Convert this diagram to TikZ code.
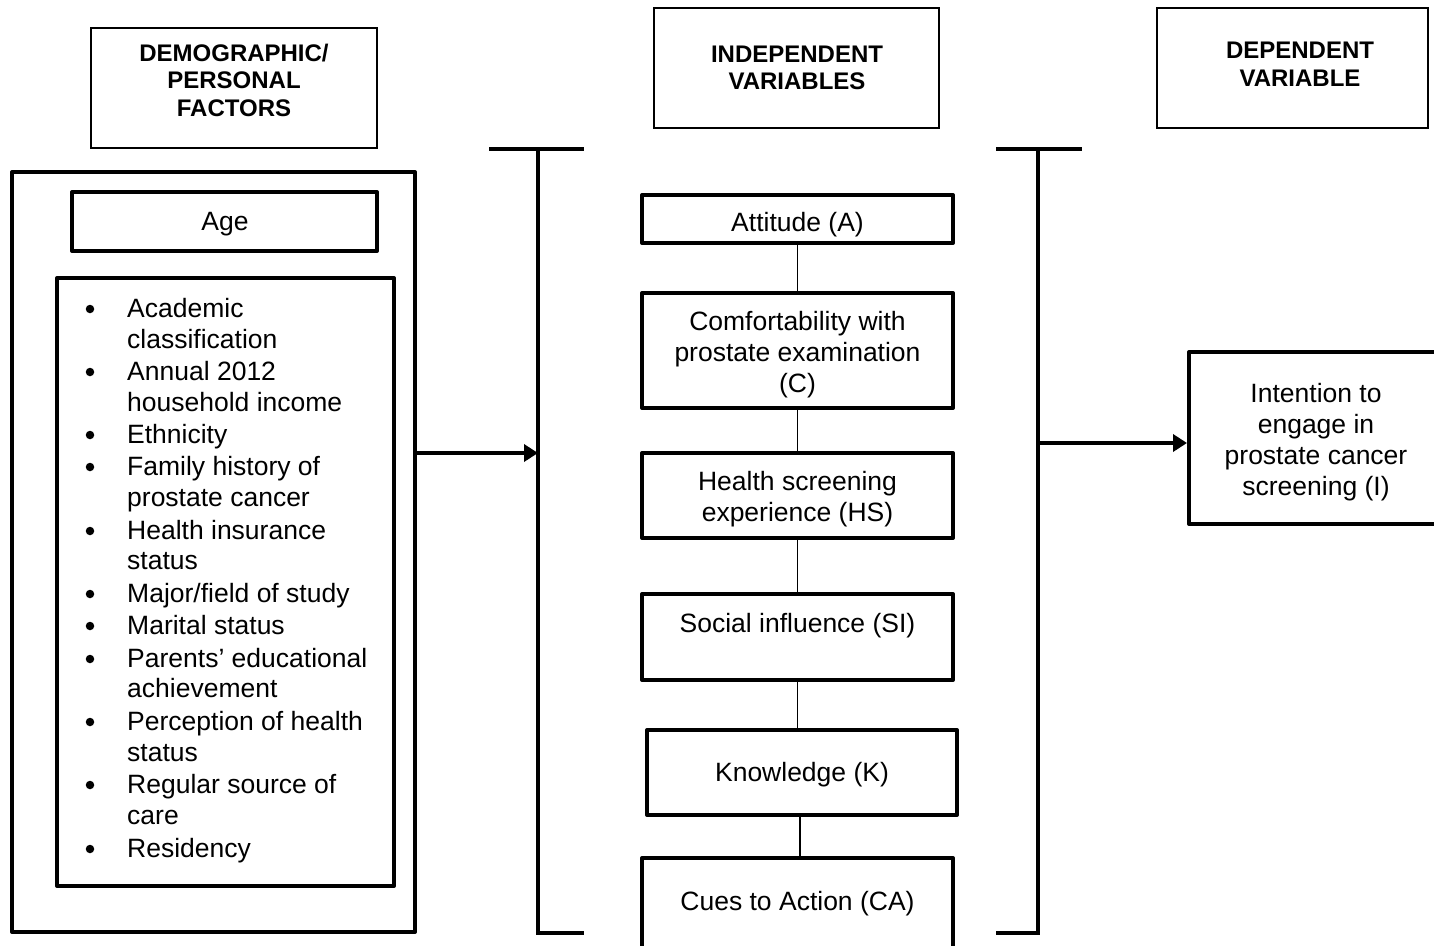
\documentclass[tikz,border=0pt]{standalone}
\usepackage{fontspec}
\setmainfont{Liberation Sans}
\usetikzlibrary{arrows.meta}
\begin{document}
\begin{tikzpicture}[x=1pt,y=-1pt,
  hbox/.style={draw, line width=1.2pt, rectangle, inner sep=0pt},
  tbox/.style={draw, line width=4pt, rectangle, inner sep=0pt, line join=round},
  htxt/.style={font=\bfseries\fontsize{24}{27.5}\selectfont, align=center, inner sep=0pt},
  btxt/.style={font=\fontsize{26.5}{31}\selectfont, align=center, inner sep=0pt, yshift=-3pt},
  ltxt/.style={font=\fontsize{26.5}{31}\selectfont, anchor=base west, inner sep=0pt},
  bul/.style={circle, fill, inner sep=0pt, minimum size=8.5pt},
  brk/.style={line width=3.5pt},
  conn/.style={line width=1.3pt},
  arr/.style={line width=3.5pt, -{Triangle[length=14pt,width=17pt]}},
]
\useasboundingbox (0,0) rectangle (1434,945);

% header boxes
\node[hbox, minimum width=286pt, minimum height=120pt] (h1) at (234,88) {};
\node[htxt] (h1t) at (234,80) {DEMOGRAPHIC/\\PERSONAL\\FACTORS};
\node[hbox, minimum width=285pt, minimum height=120pt] (h2) at (796.5,68) {};
\node[htxt] (h2t) at (797,68) {INDEPENDENT\\VARIABLES};
\node[hbox, minimum width=271pt, minimum height=120pt] (h3) at (1292.5,68) {};
\node[htxt] (h3t) at (1300,64) {DEPENDENT\\VARIABLE};

% left column
\node[tbox, minimum width=403pt, minimum height=760pt] (outer) at (213.5,552) {};
\node[tbox, minimum width=305pt, minimum height=59pt] (age) at (224.5,221.5) {};
\node[btxt] (aget) at (225,221) {Age};
\node[tbox, minimum width=337pt, minimum height=608pt] (list) at (225.5,582) {};

\foreach \y/\t in {308/Academic, 339/classification, 371/Annual 2012, 402/household income,
  434/Ethnicity, 466/Family history of, 497/prostate cancer, 530/Health insurance, 560/status,
  593/{Major/field of study}, 625/Marital status, 658/Parents’ educational, 688/achievement,
  721/Perception of health, 752/status, 784/Regular source of, 815/care, 848/Residency}
  {\node[ltxt] (li\y) at (127,\y+9) {\t};}
\foreach \y in {308,371,434,466,530,593,625,658,721,784,848}
  {\node[bul] (bu\y) at (90,\y+1) {};}

% middle column
\node[tbox, minimum width=311pt, minimum height=48pt] (att) at (797.5,219) {};
\node[btxt] (attt) at (797.5,222) {Attitude (A)};
\node[tbox, minimum width=311pt, minimum height=115pt] (com) at (797.5,350.5) {};
\node[btxt] (comt) at (797.5,352) {Comfortability with\\prostate examination\\(C)};
\node[tbox, minimum width=311pt, minimum height=85pt] (hs) at (797.5,495.5) {};
\node[btxt] (hst) at (797.5,496) {Health screening\\experience (HS)};
\node[tbox, minimum width=311pt, minimum height=86pt] (si) at (797.5,637) {};
\node[btxt] (sit) at (797.5,623) {Social influence (SI)};
\node[tbox, minimum width=310pt, minimum height=85pt] (kn) at (802,772.5) {};
\node[btxt] (knt) at (802,772) {Knowledge (K)};
\node[tbox, minimum width=311pt, minimum height=100pt] (ca) at (797.5,908) {};
\node[btxt] (cat) at (797.5,901) {Cues to Action (CA)};

\draw[conn] (att.south) -- (com.north);
\draw[conn] (com.south) -- (hs.north);
\draw[conn] (hs.south) -- (si.north);
\draw[conn] (si.south) -- (si.south |- kn.north);
\draw[conn] ([xshift=-2pt]kn.south) -- ([xshift=-2pt]kn.south |- ca.north);

% right column
\node[tbox, minimum width=271pt, minimum height=172pt] (intent) at (1324.5,438) {};
\node[btxt] (intentt) at (1316,439) {Intention to\\engage in\\prostate cancer\\screening (I)};

% brackets
\coordinate (b1tl) at (489,149);
\coordinate (b1tr) at (584,149);
\coordinate (b1t) at (538,149);
\coordinate (b1b) at (538,933);
\coordinate (b1br) at (584,933);
\coordinate (b1m) at (538,453);
\draw[brk] (b1tl) -- (b1tr);
\draw[brk] (b1t) -- (b1b) -- (b1br);

\coordinate (b2tl) at (996,149);
\coordinate (b2tr) at (1082,149);
\coordinate (b2t) at (1038,149);
\coordinate (b2b) at (1038,933);
\coordinate (b2bl) at (996,933);
\coordinate (b2m) at (1038,443);
\draw[brk] (b2tl) -- (b2tr);
\draw[brk] (b2t) -- (b2b) -- (b2bl);

% arrows
\draw[arr] (outer.east |- b1m) -- (b1m);
\draw[arr] (b2m) -- (intent.west |- b2m);
\end{tikzpicture}
\end{document}
